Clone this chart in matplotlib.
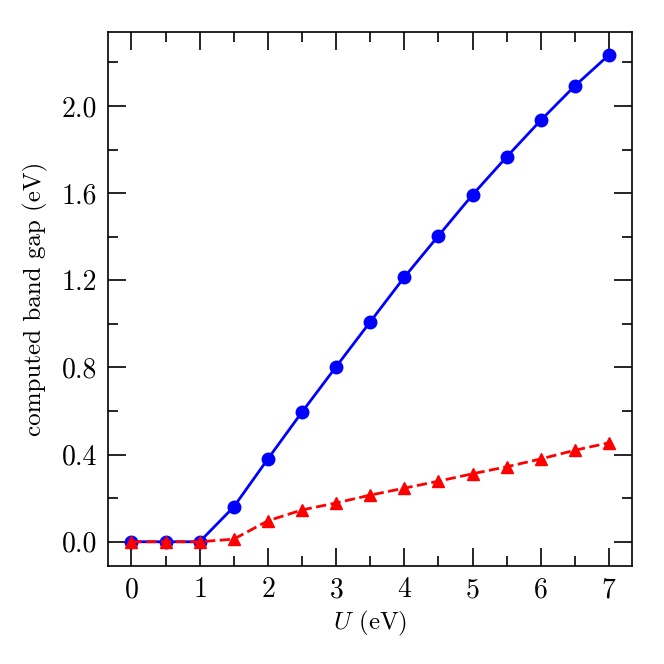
import matplotlib
matplotlib.use("Agg")
import matplotlib.pyplot as plt
from matplotlib.ticker import MultipleLocator

plt.rcParams["font.family"] = "serif"
plt.rcParams["font.serif"] = ["cmr10"]
plt.rcParams["mathtext.fontset"] = "cm"
plt.rcParams["axes.formatter.use_mathtext"] = True

# Hubbard U values (eV)
U = [0, 0.5, 1, 1.5, 2, 2.5, 3, 3.5, 4, 4.5, 5, 5.5, 6, 6.5, 7]
# computed band gaps (eV)
gapBlue = [0, 0, 0, 0.16, 0.38, 0.595, 0.803, 1.009, 1.214, 1.404, 1.592,
           1.766, 1.934, 2.092, 2.234]
gapRed = [0, 0, 0, 0.012, 0.096, 0.146, 0.178, 0.214, 0.246, 0.278, 0.312,
          0.344, 0.38, 0.42, 0.454]

fig, ax = plt.subplots(figsize=(6.64, 6.64), dpi=100)
fig.subplots_adjust(left=0.163, right=0.952, top=0.952, bottom=0.148)

ax.plot(U, gapBlue, "-o", color="blue", lw=2, ms=9)
ax.plot(U, gapRed, "--^", color="red", lw=2, ms=9)

ax.set_xlim(-0.34, 7.34)
ax.set_ylim(-0.11, 2.34)
ax.xaxis.set_major_locator(MultipleLocator(1))
ax.xaxis.set_minor_locator(MultipleLocator(0.5))
ax.yaxis.set_major_locator(MultipleLocator(0.4))
ax.yaxis.set_minor_locator(MultipleLocator(0.2))
ax.yaxis.set_major_formatter(plt.FormatStrFormatter("%.1f"))

ax.tick_params(which="both", direction="in", top=True, right=True,
               labelsize=20, width=1.2)
ax.tick_params(which="major", length=13, pad=8)
ax.tick_params(which="minor", length=7)
for s in ax.spines.values():
    s.set_linewidth(1.2)

ax.set_xlabel(r"$U$ (eV)", fontsize=18, labelpad=4)
ax.set_ylabel("computed band gap (eV)", fontsize=18, labelpad=10)

fig.savefig("out.png")
